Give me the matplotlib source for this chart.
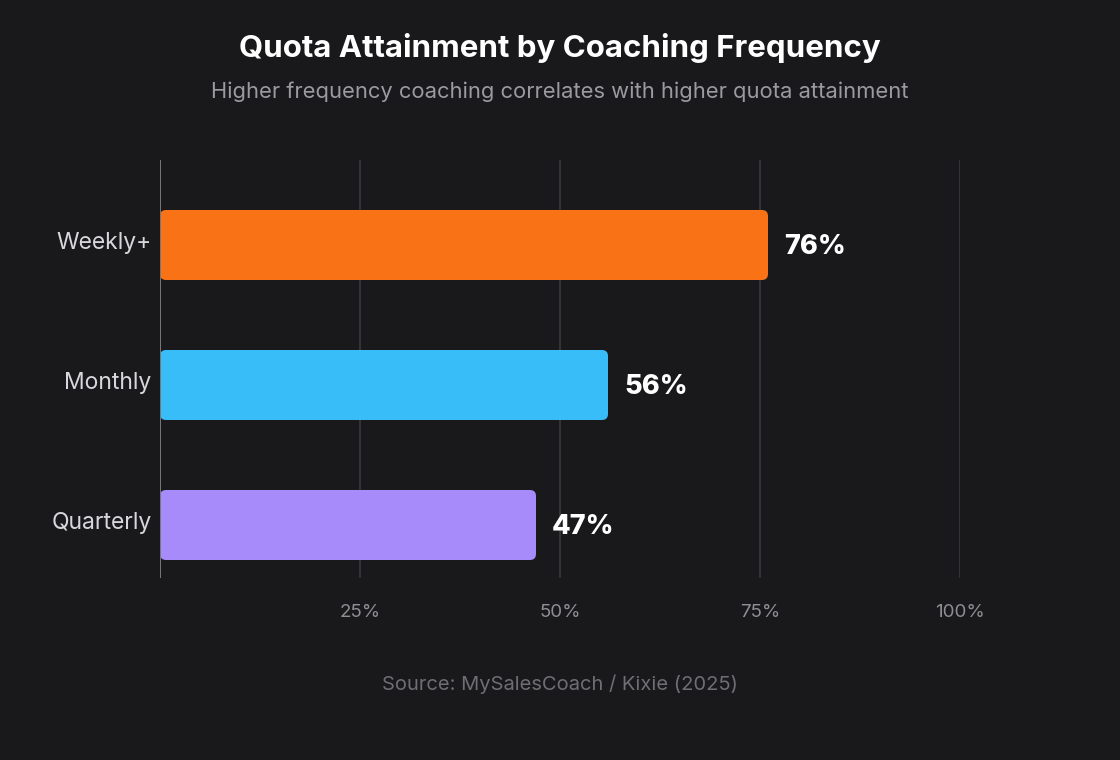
import matplotlib
matplotlib.use("Agg")
import matplotlib.pyplot as plt
from matplotlib.patches import FancyBboxPatch

# data
categories = ["Weekly+", "Monthly", "Quarterly"]
values = [76, 56, 47]
bar_colors = ["#f97316", "#38bdf8", "#a78bfa"]
tick_values = [25, 50, 75, 100]
tick_labels = ["25%", "50%", "75%", "100%"]

BG = "#19191b"
plt.rcParams["font.family"] = ["Inter", "DejaVu Sans"]

fig = plt.figure(figsize=(11.2, 7.6), dpi=100, facecolor=BG)
ax = fig.add_axes([160 / 1120, 182 / 760, 800 / 1120, 418 / 760])
ax.set_facecolor(BG)

n = len(categories)
band = 140.0  # px per category
ax.set_xlim(0, 100)
ax.set_ylim((n - 1) + 53 / band, -85 / band)

# vertical grid lines
for t in tick_values:
    ax.axvline(t, color="#3a3a3e", lw=1.2, zorder=0)
ax.axvline(0, color="#77777c", lw=1.4, zorder=3)

# px -> data units for rounded corners
px_x = 100 / 800
px_y = 1 / band
for i, (v, c) in enumerate(zip(values, bar_colors)):
    h = 0.5
    box = FancyBboxPatch((0, i - h / 2), v, h,
                         boxstyle="round,pad=0,rounding_size=%f" % (6 * px_x),
                         mutation_aspect=px_y / px_x,
                         facecolor=c, edgecolor="none", zorder=2)
    ax.add_patch(box)
    ax.text(v + 16 * px_x, i + 2.5 * px_y, "%d%%" % v, color="white", fontsize=19.5,
            fontweight="heavy", va="center", ha="left")

# category labels sit a few px above the bar centre
ax.set_yticks([i - 4 * px_y for i in range(n)])
ax.set_yticklabels(categories, color="#d8d8dc", fontsize=16.5)
ax.set_xticks(tick_values)
ax.set_xticklabels(tick_labels, color="#8e8e93", fontsize=13.5)
ax.tick_params(axis="y", length=0, pad=6)
ax.tick_params(axis="x", length=0, pad=19)
for s in ax.spines.values():
    s.set_visible(False)

fig.text(0.5, 1 - 48 / 760, "Quota Attainment by Coaching Frequency", color="white",
         fontsize=22.5, fontweight="bold", ha="center", va="center")
fig.text(0.5, 1 - 92 / 760, "Higher frequency coaching correlates with higher quota attainment",
         color="#9a9aa0", fontsize=15.8, ha="center", va="center")
fig.text(0.5, 1 - 684 / 760, "Source: MySalesCoach / Kixie (2025)", color="#6e6e73",
         fontsize=14.5, ha="center", va="center")

fig.savefig("out.png", dpi=100, facecolor=BG)
